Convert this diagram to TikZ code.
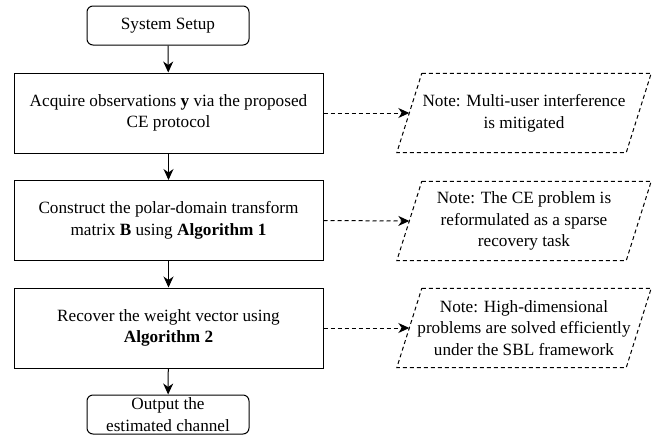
\documentclass[tikz,border=0pt]{standalone}
\usepackage{fontspec}
\setmainfont{Liberation Serif}
\usetikzlibrary{arrows.meta}
\begin{document}
\begin{tikzpicture}[x=1pt,y=-1pt,
  every node/.style={font=\fontsize{17.2}{21.7}\selectfont, align=center, inner sep=0pt},
  stepbox/.style={draw, line width=1pt, minimum width=309pt, minimum height=80pt},
  termbox/.style={draw, line width=1pt, rounded corners=6pt, minimum width=162pt, minimum height=39pt},
  notebox/.style={minimum width=229pt, minimum height=79pt},
  flow/.style={line width=1pt, -{Stealth[length=11pt,width=10pt,inset=3.5pt]}},
  noteflow/.style={line width=1pt, dash pattern=on 4pt off 3pt, -{Stealth[length=11pt,width=10pt,inset=3.5pt]}},
  noteline/.style={line width=1pt, dash pattern=on 4pt off 3pt}
]
\useasboundingbox (0,0) rectangle (662,437);
\node[termbox] (setup) at (168,25.5) {System Setup};
\node[stepbox] (b1) at (168.5,113) {Acquire observations \textbf{y} via the proposed\\CE protocol};
\node[stepbox] (b2) at (168.5,220.5) {Construct the polar-domain transform\\matrix \textbf{B} using \textbf{Algorithm 1}};
\node[stepbox] (b3) at (168.5,328) {Recover the weight vector using\\\textbf{Algorithm 2}};
\node[termbox] (out) at (168,414.5) {Output the\\estimated channel};

\node[notebox] (n1) at (524,113) {Note: Multi-user interference\\is mitigated};
\node[notebox] (n2) at (524,221) {Note: The CE problem is\\reformulated as a sparse\\recovery task};
\node[notebox] (n3) at (524,328) {Note: High-dimensional\\problems are solved efficiently\\under the SBL framework};

\foreach \n in {n1,n2,n3}{
  \draw[noteline] ([xshift=12.5pt]\n.north west) -- ([xshift=12.5pt]\n.north east)
    -- ([xshift=-12.5pt]\n.south east) -- ([xshift=-12.5pt]\n.south west) -- cycle;
}

\draw[flow] (setup) -- (b1);
\draw[flow] (b1) -- (b2);
\draw[flow] (b2) -- (b3);
\draw[flow] (b3) -- (out);

\draw[noteflow] (b1.east) -- (n1.west);
\draw[noteflow] (b2.east) -- (n2.west);
\draw[noteflow] (b3.east) -- (n3.west);
\end{tikzpicture}
\end{document}
